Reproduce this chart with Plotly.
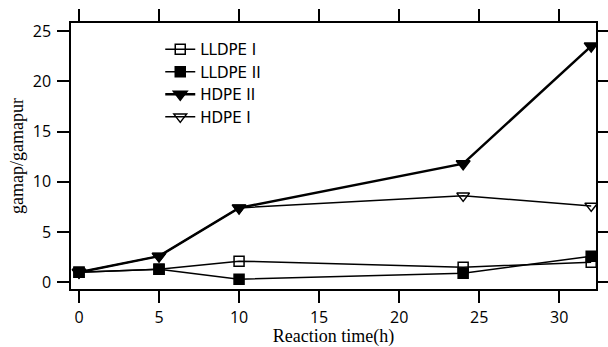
import plotly.graph_objects as go

time_h = [0, 5, 10, 24, 32]
lldpe_1 = [1.0, 1.3, 2.1, 1.5, 2.0]
lldpe_2 = [1.0, 1.3, 0.3, 0.9, 2.6]
hdpe_2 = [1.0, 2.6, 7.4, 11.8, 23.5]
hdpe_1 = [1.0, 2.6, 7.4, 8.6, 7.6]

x_ticks = [0, 5, 10, 15, 20, 25, 30]
y_ticks = [0, 5, 10, 15, 20, 25]
x_range = [-0.5, 32.3]
y_range = [-0.67, 25.8]

series = [
    ("LLDPE I", lldpe_1, "square-open", 1.5, 10),
    ("LLDPE II", lldpe_2, "square", 1.5, 10),
    ("HDPE II", hdpe_2, "triangle-down", 2.5, 12),
    ("HDPE I", hdpe_1, "triangle-down-open", 1.5, 11),
]

fig = go.Figure()
for name, ys, sym, lw, ms in series:
    fig.add_trace(go.Scatter(
        x=time_h, y=ys, name=name, mode="lines+markers",
        line=dict(color="black", width=lw),
        marker=dict(symbol=sym, size=ms, color="black",
                    line=dict(color="black", width=1.5)),
    ))

tick_font = dict(family="Open Sans", size=16, color="black")
title_font = dict(family="Liberation Serif", size=18, color="black")
axis_common = dict(
    showline=True, linecolor="black", linewidth=1.5,
    ticks="outside", tickcolor="black", tickwidth=1.5,
    showgrid=False, zeroline=False, tickfont=tick_font, automargin=False,
    mirror="allticks",
)

fig.update_layout(
    width=608, height=347,
    margin=dict(l=71, r=12, t=23, b=58),
    paper_bgcolor="white", plot_bgcolor="white",
    showlegend=True,
    legend=dict(x=0.17, y=0.962, xanchor="left", yanchor="top",
                bgcolor="rgba(0,0,0,0)", tracegroupgap=0,
                font=dict(family="DejaVu Sans", size=15, color="black"),
                itemwidth=30),
    xaxis=dict(range=x_range, tickvals=x_ticks, ticklen=12,
               ticklabelstandoff=1,
               title=dict(text="Reaction time(h)", standoff=6, font=title_font),
               **axis_common),
    yaxis=dict(range=y_range, tickvals=y_ticks, ticklen=12,
               ticklabelstandoff=3,
               title=dict(text="gamap/gamapur", standoff=4, font=title_font),
               **axis_common),
)

fig.write_html("out.html", config={"displayModeBar": False})
